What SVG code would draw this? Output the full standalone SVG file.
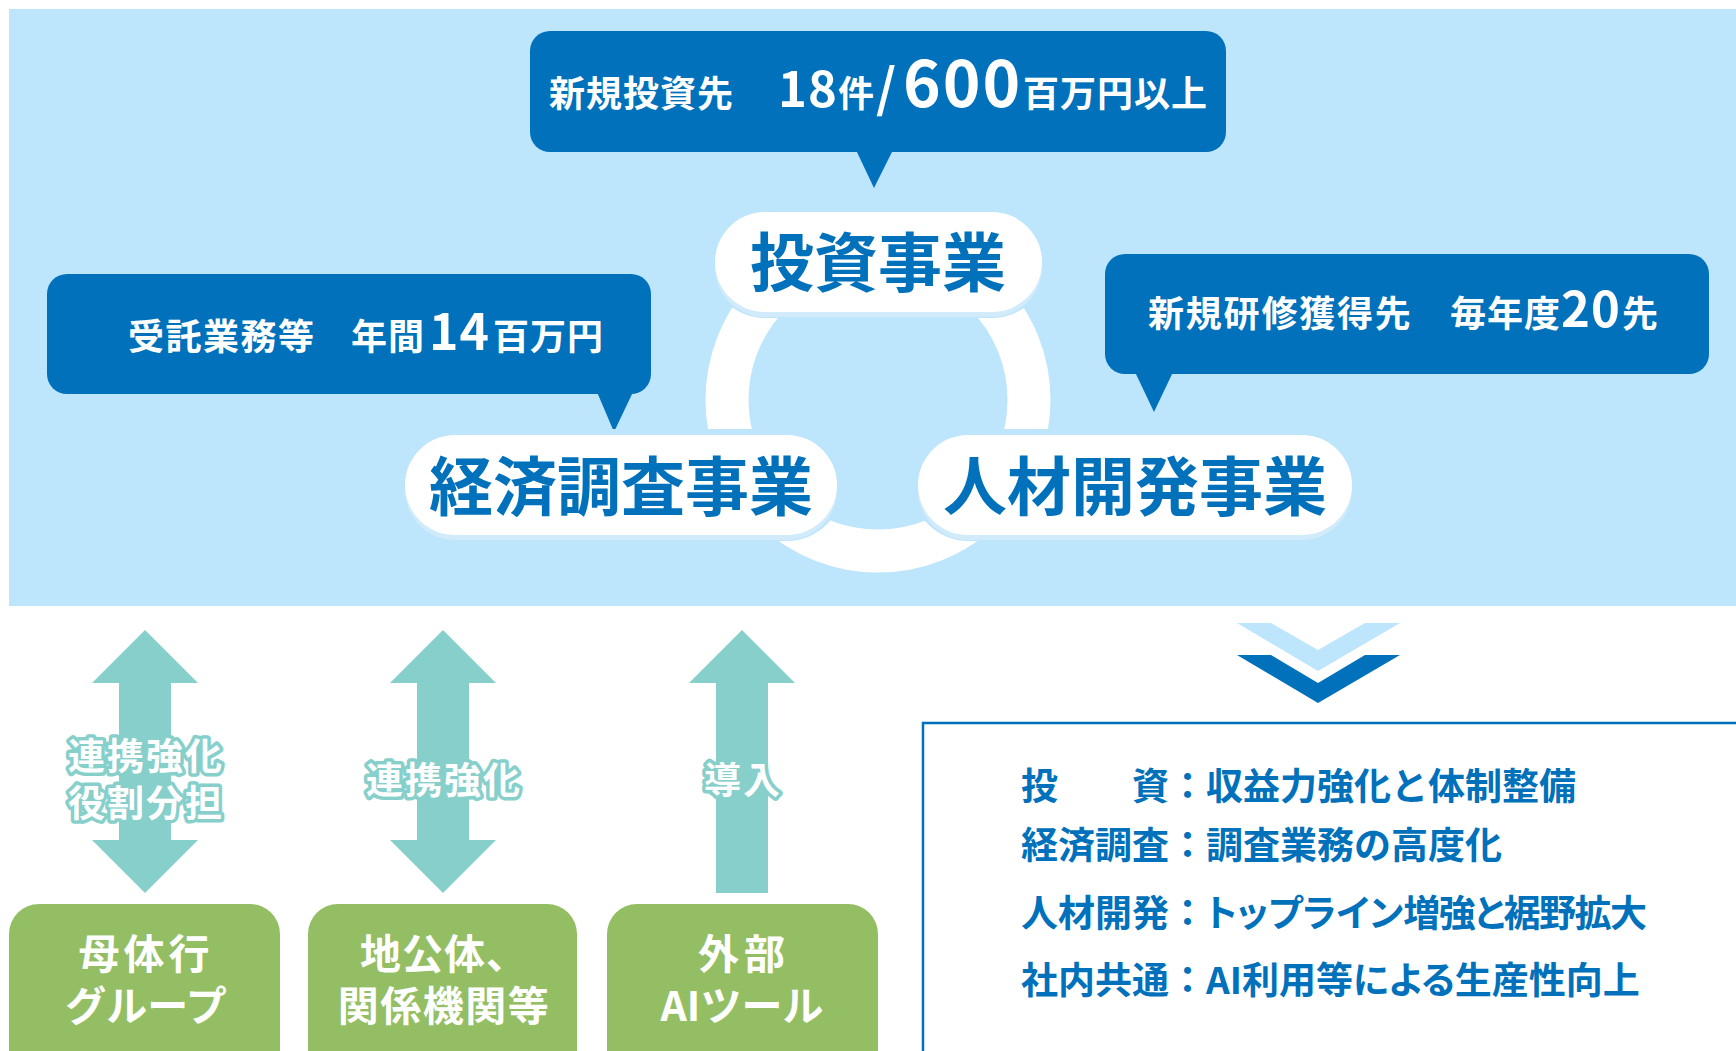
<svg xmlns="http://www.w3.org/2000/svg" width="1736" height="1051" viewBox="0 0 1736 1051">
<style>
text{font-family:"Noto Sans CJK JP","Noto Sans",sans-serif;font-weight:bold}
.bt{font-size:36px;fill:#ffffff;letter-spacing:1px}
.nt{font-size:64px;fill:#0071ba;text-anchor:middle}
.gt{font-size:41px;fill:#ffffff;text-anchor:middle}
.at{font-size:37px;fill:#ffffff;stroke:#86cfcb;stroke-width:7px;stroke-linejoin:round;paint-order:stroke;text-anchor:middle;letter-spacing:2px}
.rt{font-size:37px;fill:#0071ba}
.palt{font-feature-settings:"palt"}
.bub{fill:#0071ba}
.arw{fill:#86cfcb}
.gbox{fill:#94be63}
.gap{fill:#bde5fc}
.shd{fill:#d2ebfb}
.pill{fill:#ffffff}
</style>
<rect x="0" y="0" width="1736" height="1051" fill="#ffffff"/>
<rect x="9" y="9" width="1727" height="597" fill="#bde5fc"/>

<g id="connectors">
  <circle cx="878" cy="400" r="151" fill="none" stroke="#ffffff" stroke-width="43"/>
  <polygon class="arw" points="145,630 198,683 171,683 171,840 198,840 145,893 92,840 119,840 119,683 92,683"/>
  <polygon class="arw" points="443,630 496,683 469,683 469,840 496,840 443,893 390,840 417,840 417,683 390,683"/>
  <polygon class="arw" points="742,630 795,683 768,683 768,893 716,893 716,683 689,683"/>
  <polygon fill="#bde5fc" points="1237,623 1271,623 1318,650 1365,623 1400,623 1318,671"/>
  <polygon fill="#0071ba" points="1237,655 1271,655 1318,683 1365,655 1400,655 1318,703"/>
</g>

<g id="bubble-invest">
  <rect class="bub" x="530" y="31" width="696" height="121" rx="20"/>
  <polygon class="bub" points="856,150 893,150 874,188"/>
  <text class="bt" y="107"><tspan x="549">新規投資先</tspan><tspan x="778" font-size="49">18</tspan><tspan x="838">件</tspan><tspan x="876" font-size="52">/</tspan><tspan x="903" font-size="64" letter-spacing="2">600</tspan><tspan x="1023">百万円以上</tspan></text>
</g>

<g id="bubble-econ">
  <rect class="bub" x="47" y="274" width="604" height="120" rx="20"/>
  <polygon class="bub" points="597,392 633,392 614,432"/>
  <text class="bt" y="350"><tspan x="128" letter-spacing="1.5">受託業務等</tspan><tspan x="351">年間</tspan><tspan x="429" font-size="50">14</tspan><tspan x="493">百万円</tspan></text>
</g>

<g id="bubble-hr">
  <rect class="bub" x="1105" y="254" width="604" height="120" rx="20"/>
  <polygon class="bub" points="1135,372 1173,372 1154,412"/>
  <text class="bt" y="327"><tspan x="1148" letter-spacing="1.8">新規研修獲得先</tspan><tspan x="1450">毎年度</tspan><tspan x="1561" font-size="49">20</tspan><tspan x="1622">先</tspan></text>
</g>

<g id="node-invest">
  <rect class="gap" x="709" y="206" width="339" height="112" rx="56"/>
  <rect class="shd" x="715" y="216" width="327" height="101" rx="50"/>
  <rect class="pill" x="715" y="212" width="327" height="100" rx="50"/>
  <text class="nt" x="878" y="286">投資事業</text>
</g>

<g id="node-econ">
  <rect class="gap" x="399" y="429" width="444" height="112" rx="56"/>
  <rect class="shd" x="405" y="439" width="432" height="101" rx="50"/>
  <rect class="pill" x="405" y="435" width="432" height="100" rx="50"/>
  <text class="nt" x="621" y="510">経済調査事業</text>
</g>

<g id="node-hr">
  <rect class="gap" x="912" y="429" width="446" height="112" rx="56"/>
  <rect class="shd" x="918" y="439" width="434" height="101" rx="50"/>
  <rect class="pill" x="918" y="435" width="434" height="100" rx="50"/>
  <text class="nt" x="1135" y="510">人材開発事業</text>
</g>

<g id="label-arrow1">
  <text class="at"><tspan x="146" y="770">連携強化</tspan><tspan x="146" y="817">役割分担</tspan></text>
</g>
<g id="label-arrow2">
  <text class="at" x="444" y="794">連携強化</text>
</g>
<g id="label-arrow3">
  <text class="at" x="743" y="794">導入</text>
</g>

<g id="box-parent">
  <rect class="gbox" x="9" y="904" width="271" height="190" rx="30"/>
  <text class="gt"><tspan x="146" y="969" letter-spacing="4">母体行</tspan><tspan x="146" y="1021">グループ</tspan></text>
</g>
<g id="box-local">
  <rect class="gbox" x="308" y="904" width="269" height="190" rx="30"/>
  <text class="gt"><tspan x="444" y="969" letter-spacing="1">地公体、</tspan><tspan x="444" y="1021" letter-spacing="1.5">関係機関等</tspan></text>
</g>
<g id="box-ai">
  <rect class="gbox" x="607" y="904" width="271" height="190" rx="30"/>
  <text class="gt"><tspan x="744" y="969" letter-spacing="5">外部</tspan><tspan x="742" y="1021">AIツール</tspan></text>
</g>

<g id="box-summary">
  <rect x="923" y="723" width="900" height="400" fill="#ffffff" stroke="#0071ba" stroke-width="2.5"/>
  <text class="rt" x="1021" y="800">投　　資：収益力強化と体制整備</text>
  <text class="rt" x="1021" y="859">経済調査：調査業務の高度化</text>
  <text class="rt" x="1021" y="927">人材開発：<tspan class="palt">トップライン</tspan><tspan letter-spacing="-1.5">増強<tspan class="palt">と</tspan>裾野拡大</tspan></text>
  <text class="rt" x="1021" y="994">社内共通：AI利用等<tspan class="palt">による</tspan>生産性向上</text>
</g>
</svg>
